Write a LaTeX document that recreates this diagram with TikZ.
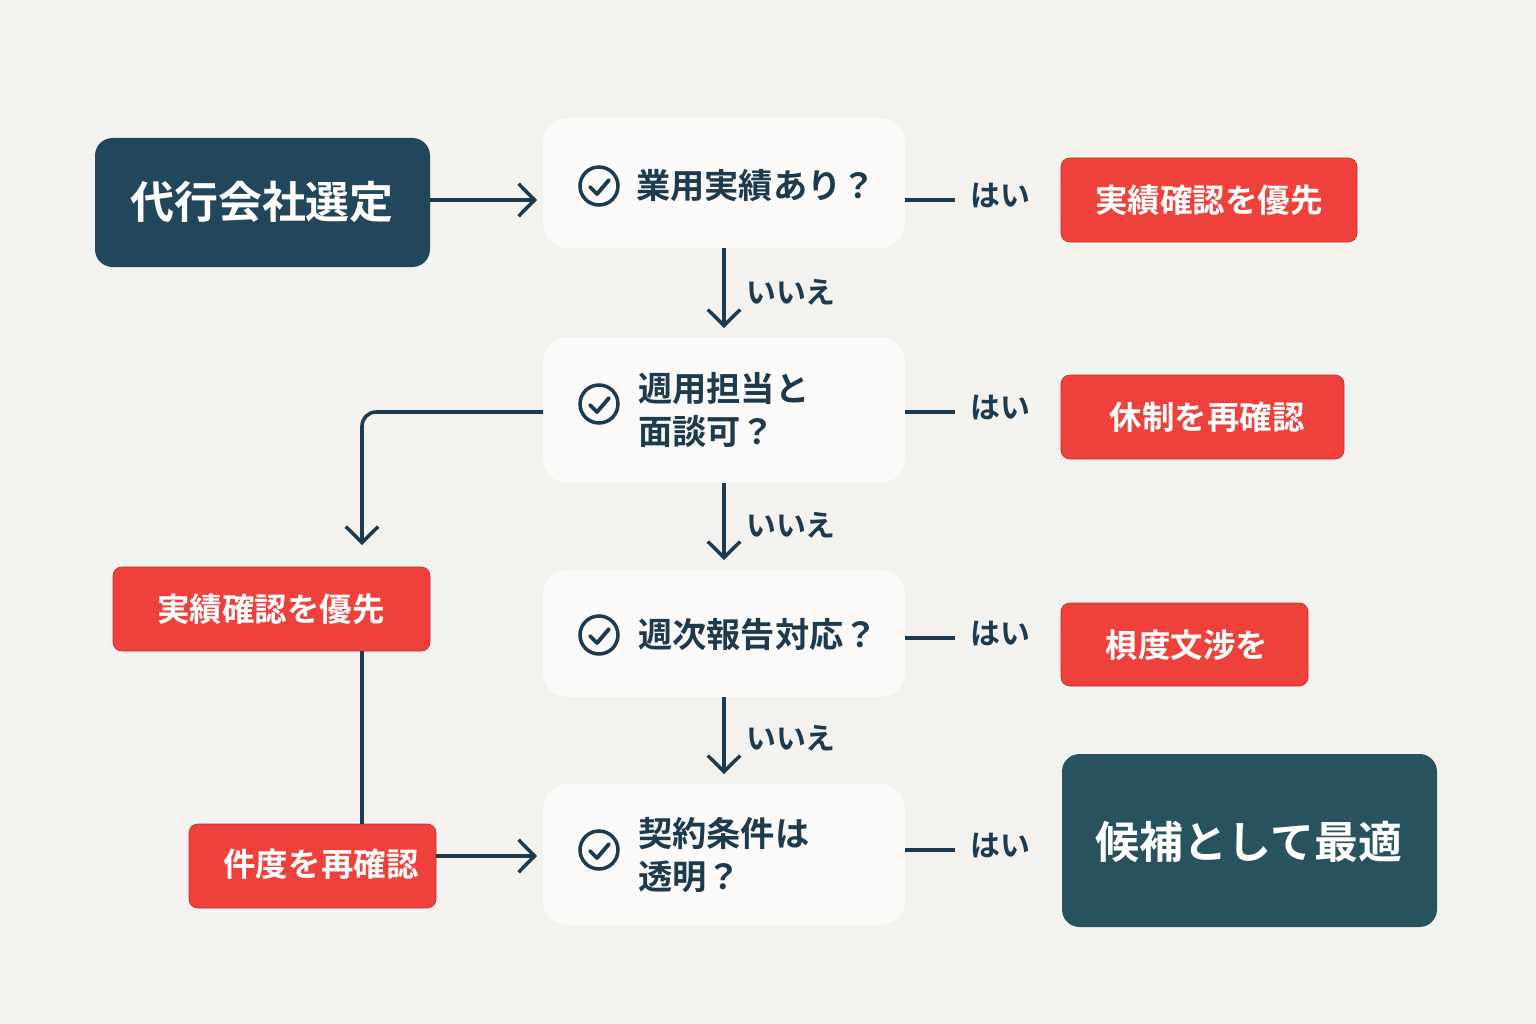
\documentclass[tikz,border=0pt]{standalone}
\usepackage{fontspec}
\setmainfont{Noto Sans CJK JP}[BoldFont={* Bold}]
\usetikzlibrary{arrows.meta}
\definecolor{bg}{RGB}{244,242,239}
\definecolor{navy}{RGB}{34,71,92}
\definecolor{teal}{RGB}{40,83,94}
\definecolor{redb}{RGB}{238,65,60}
\definecolor{ink}{RGB}{30,58,78}
\begin{document}
\begin{tikzpicture}[x=0.02cm,y=-0.02cm,
  qbox/.style={fill=white!60!bg, draw=none, rounded corners=14pt},
  rbox/.style={fill=redb, draw=redb!80!black, line width=0.4pt, rounded corners=5pt},
  rtxt/.style={text=white, font=\bfseries\fontsize{18.5pt}{22pt}\selectfont},
  dbox/.style={fill=#1, rounded corners=10pt},
  dtxt/.style={text=white, font=\bfseries\fontsize{25pt}{30pt}\selectfont},
  conn/.style={draw=ink, line width=2pt},
  arr/.style={conn, -{Straight Barb[length=3.2mm,width=6.5mm,line width=2pt]}},
  qtxt/.style={text=ink, font=\bfseries\fontsize{19.5pt}{24pt}\selectfont, align=left, anchor=west},
  lbl/.style={text=ink, font=\bfseries\fontsize{17pt}{20pt}\selectfont}]
\fill[bg] (0,0) rectangle (1536,1024);
\useasboundingbox (0,0) rectangle (1536,1024);
% start
\path[dbox=navy] (95,138) rectangle (430,267);
\node[dtxt] (start) at (262,202) {代行会社選定};
\coordinate (startR) at (430,200);
% questions
\path[qbox] (543,118) rectangle (905,248); \coordinate (q1t) at (724,118); \coordinate (q1b) at (724,248);
\path[qbox] (543,337) rectangle (905,483); \coordinate (q2t) at (724,337); \coordinate (q2b) at (724,483);
\path[qbox] (543,570) rectangle (905,697); \coordinate (q3t) at (724,570); \coordinate (q3b) at (724,697);
\path[qbox] (543,784) rectangle (905,925); \coordinate (q4t) at (724,784);
\foreach \y in {186,404,635,850}{
  \draw[ink,line width=2pt] (599,\y) circle (19);
  \draw[ink,line width=2.2pt,line cap=round,line join=round] (590,\y+1) -- (597,\y+8) -- (609,\y-6);
}
\node[qtxt] (q1) at (630,186) {業用実績あり？};
\node[qtxt] (q2) at (632,410) {週用担当と\\面談可？};
\node[qtxt] (q3) at (632,635) {週次報告対応？};
\node[qtxt] (q4) at (632,855) {契約条件は\\透明？};
% right side
\foreach \y/\n in {200/a,412/b,638/c,850/d}{
  \draw[conn] (905,\y) -- (955,\y);
  \node[lbl] (y\n) at (1000,\y-4) {はい};
}
\path[rbox] (1061,158) rectangle (1357,242); \node[rtxt] (r1) at (1209,200) {実績確認を優先};
\path[rbox] (1061,375) rectangle (1344,459); \node[rtxt] (r2) at (1207,417) {休制を再確認};
\path[rbox] (1061,603) rectangle (1308,686); \node[rtxt] (r3) at (1187,645) {梖度文涉を};
\path[dbox=teal] (1062,754) rectangle (1437,927); \node[dtxt] (fin) at (1249,842) {候補として最適};
% down arrows
\draw[arr] (q1b) -- (724,328); \node[lbl] at (791,292) {いいえ};
\draw[arr] (q2b) -- (724,560); \node[lbl] at (791,525) {いいえ};
\draw[arr] (q3b) -- (724,774); \node[lbl] at (791,738) {いいえ};
\draw[arr] (startR) -- (537,200);
% left side
\path[rbox] (113,567) rectangle (430,651); \node[rtxt] (l1) at (271,609) {実績確認を優先};
\path[rbox] (189,824) rectangle (436,908); \node[rtxt] (l2) at (321,864) {件度を再確認};
\draw[arr,rounded corners=8pt] (543,412) -- (362,412) -- (362,545);
\draw[conn] (362,651) -- (362,824);
\draw[arr] (436,856) -- (537,856);
\end{tikzpicture}
\end{document}
